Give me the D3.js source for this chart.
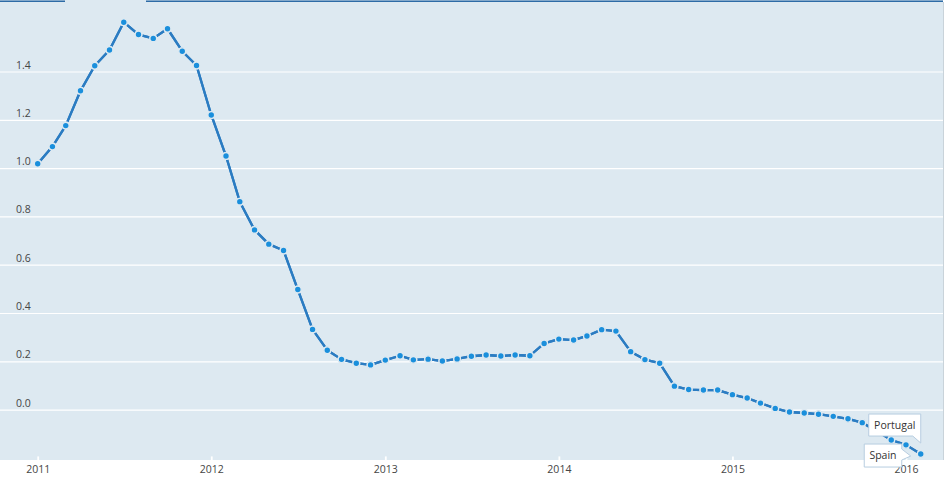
<!DOCTYPE html>
<html>
<head>
<meta charset="utf-8">
<script src="https://cdn.jsdelivr.net/npm/d3@7"></script>
<style>
  html, body { margin: 0; padding: 0; background: #fff; }
  svg { display: block; font-family: "Open Sans", "Noto Sans", sans-serif; }
</style>
</head>
<body>
<svg id="chart" width="945" height="486"></svg>
<script>
// ---- data ----
const months = [
  "2011-01","2011-02","2011-03","2011-04","2011-05","2011-06","2011-07","2011-08","2011-09","2011-10","2011-11","2011-12",
  "2012-01","2012-02","2012-03","2012-04","2012-05","2012-06","2012-07","2012-08","2012-09","2012-10","2012-11","2012-12",
  "2013-01","2013-02","2013-03","2013-04","2013-05","2013-06","2013-07","2013-08","2013-09","2013-10","2013-11","2013-12",
  "2014-01","2014-02","2014-03","2014-04","2014-05","2014-06","2014-07","2014-08","2014-09","2014-10","2014-11","2014-12",
  "2015-01","2015-02","2015-03","2015-04","2015-05","2015-06","2015-07","2015-08","2015-09","2015-10","2015-11","2015-12",
  "2016-01","2016-02"
];
const portugal = [
  1.018,1.089,1.176,1.320,1.424,1.489,1.604,1.553,1.537,1.577,1.484,1.425,
  1.220,1.050,0.861,0.744,0.685,0.659,0.497,0.332,0.246,0.208,0.192,0.185,
  0.205,0.223,0.206,0.209,0.201,0.210,0.221,0.226,0.222,0.226,0.223,0.274,
  0.292,0.288,0.305,0.331,0.325,0.240,0.207,0.192,0.097,0.083,0.081,0.081,
  0.062,0.048,0.027,0.005,-0.010,-0.014,-0.019,-0.028,-0.038,-0.054,-0.090,-0.126,
  -0.146,-0.184
];
const spain = [
  1.018,1.089,1.176,1.320,1.424,1.489,1.604,1.553,1.537,1.577,1.484,1.425,
  1.220,1.050,0.861,0.744,0.685,0.659,0.497,0.332,0.246,0.208,0.192,0.185,
  0.205,0.223,0.206,0.209,0.201,0.210,0.221,0.226,0.222,0.226,0.223,0.274,
  0.292,0.288,0.305,0.331,0.325,0.240,0.207,0.192,0.097,0.083,0.081,0.081,
  0.062,0.048,0.027,0.005,-0.010,-0.014,-0.019,-0.028,-0.038,-0.054,-0.090,-0.126,
  -0.146,-0.184
];
const yTicks = [0.0, 0.2, 0.4, 0.6, 0.8, 1.0, 1.2, 1.4];
const xTickYears = ["2011","2012","2013","2014","2015","2016"];
const seriesNames = ["Portugal", "Spain"];

// ---- layout ----
const W = 945, H = 486;
const plot = { left: 0, right: 943, top: 0, bottom: 460 };
const bg = "#dde9f1";
const lineColor = "#2b7cc2";
const dotColor = "#1a8fdc";

const parseMonth = d3.timeParse("%Y-%m");
const parseYear = d3.timeParse("%Y");

const x = d3.scaleTime()
  .domain([parseYear("2011"), parseYear("2016")])
  .range([37.7, 906]);
const y = d3.scaleLinear()
  .domain([0, 1.4])
  .range([409.6, 409.6 - 1.4 * 241.5]);

const svg = d3.select("#chart");

// plot background
svg.append("rect")
  .attr("x", plot.left).attr("y", plot.top)
  .attr("width", plot.right - plot.left).attr("height", plot.bottom - plot.top)
  .attr("fill", bg);

// top border with gap
svg.append("line").attr("x1", 0).attr("x2", 65).attr("y1", 1.2).attr("y2", 1.2)
  .attr("stroke", "#2d6ba6").attr("stroke-width", 1.6);
svg.append("line").attr("x1", 146).attr("x2", 943).attr("y1", 1.2).attr("y2", 1.2)
  .attr("stroke", "#2d6ba6").attr("stroke-width", 1.6);
// right border
svg.append("line").attr("x1", 943.5).attr("x2", 943.5).attr("y1", 2).attr("y2", plot.bottom)
  .attr("stroke", "#c9d3da").attr("stroke-width", 1);

// gridlines + y labels
const yAxis = d3.axisLeft(y).tickValues(yTicks).tickSize(0).tickFormat(d3.format(".1f"));
const gY = svg.append("g").call(yAxis);
gY.select(".domain").remove();
gY.selectAll(".tick text").remove();
gY.selectAll(".tick").append("line")
  .attr("x1", plot.left).attr("x2", plot.right)
  .attr("stroke", "#ffffff").attr("stroke-width", 1.2);
gY.selectAll(".tick").append("text")
  .attr("x", 16).attr("y", -3.5)
  .attr("text-anchor", "start")
  .attr("fill", "#454545")
  .attr("font-size", "10.5px")
  .attr("font-family", "\"Open Sans\", sans-serif")
  .text(d => d3.format(".1f")(d));

// x axis
const xAxis = d3.axisBottom(x)
  .tickValues(xTickYears.map(parseYear))
  .tickSize(0)
  .tickFormat(d3.timeFormat("%Y"));
const gX = svg.append("g").attr("transform", `translate(0,${plot.bottom})`).call(xAxis);
gX.select(".domain").remove();
gX.selectAll(".tick line").remove();
gX.selectAll(".tick").append("line")
  .attr("y1", -3.6).attr("y2", 0)
  .attr("stroke", "#ffffff").attr("stroke-width", 1.8);
gX.selectAll(".tick text")
  .attr("y", 13)
  .attr("dy", 0)
  .attr("fill", "#454545")
  .attr("font-size", "10.5px")
  .attr("font-family", "\"Open Sans\", sans-serif");

// series
const seriesData = [
  { name: seriesNames[1], values: spain },
  { name: seriesNames[0], values: portugal }
];
const line = d3.line()
  .x((d, i) => x(parseMonth(months[i])))
  .y(d => y(d));

seriesData.forEach(s => {
  svg.append("path")
    .datum(s.values)
    .attr("fill", "none")
    .attr("stroke", lineColor)
    .attr("stroke-width", 2.3)
    .attr("stroke-linejoin", "round")
    .attr("d", line);
});
seriesData.forEach(s => {
  svg.append("g").selectAll("circle")
    .data(s.values)
    .join("circle")
    .attr("cx", (d, i) => x(parseMonth(months[i])))
    .attr("cy", d => y(d))
    .attr("r", 3.35)
    .attr("fill", dotColor)
    .attr("stroke", bg)
    .attr("stroke-width", 1.3);
});

// end labels (callouts)
const lastIdx = months.length - 1;
const px = x(parseMonth(months[lastIdx]));
const pyP = y(portugal[lastIdx]);
const pyS = y(spain[lastIdx]);
const calloutStroke = "#b7cde0";

// Portugal callout: box above-left, tail from bottom-right corner
{
  const bx1 = px - 52, bx2 = px, by1 = pyP - 40, by2 = pyP - 18;
  const tipY = pyP - 11;
  const path = `M${bx1},${by1} H${bx2} V${tipY} L${bx2 - 8},${by2} H${bx1} Z`;
  svg.append("path").attr("d", path)
    .attr("fill", "#ffffff").attr("stroke", calloutStroke).attr("stroke-width", 1);
  svg.append("text")
    .attr("x", (bx1 + bx2) / 2).attr("y", by1 + 15)
    .attr("text-anchor", "middle")
    .attr("fill", "#333")
    .attr("font-size", "10.5px")
    .attr("font-family", "\"Open Sans\", sans-serif")
    .text(seriesNames[0]);
}
// Spain callout: box left, pointer to the right
{
  const bx1 = px - 56.5, bx2 = px - 19, by1 = pyS - 10, by2 = pyS + 13;
  const path = `M${bx1},${by1} H${bx2} V${pyS - 5} L${px - 10},${pyS + 2} L${bx2},${pyS + 6} V${by2} H${bx1} Z`;
  svg.append("path").attr("d", path)
    .attr("fill", "#ffffff").attr("stroke", calloutStroke).attr("stroke-width", 1);
  svg.append("text")
    .attr("x", (bx1 + bx2) / 2).attr("y", pyS + 5)
    .attr("text-anchor", "middle")
    .attr("fill", "#333")
    .attr("font-size", "10.5px")
    .attr("font-family", "\"Open Sans\", sans-serif")
    .text(seriesNames[1]);
}
</script>
</body>
</html>
